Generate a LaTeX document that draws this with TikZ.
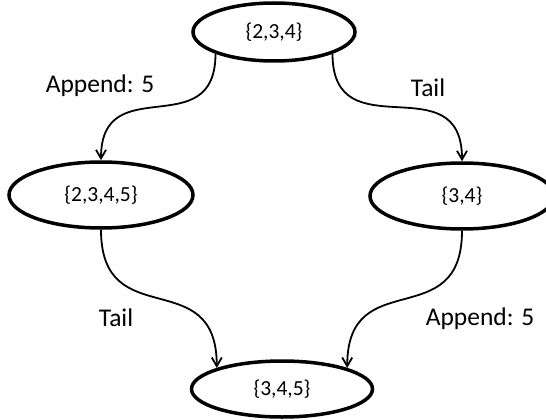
\documentclass[tikz,border=0pt]{standalone}
\usepackage{fontspec}
\setmainfont{Carlito}
\usetikzlibrary{shapes.geometric,arrows.meta}
\tikzset{
  setnode/.style={ellipse,draw,line width=3.5pt,inner sep=0pt,font=\fontsize{21.5}{25}\selectfont},
  flow/.style={line width=1.8pt,-{Straight Barb[angle=60:10pt,line width=1.8pt]},looseness=1.5},
  edgelabel/.style={font=\fontsize{25.5}{30}\selectfont}
}

\begin{document}
\begin{tikzpicture}[x=1pt,y=1pt]
  \useasboundingbox (0,0) rectangle (546,-420);
  \node[setnode,minimum width=162pt,minimum height=58pt] (start) at (274,-32) {\{2,3,4\}};
  \node[setnode,minimum width=184pt,minimum height=66pt] (appended) at (101,-195) {\{2,3,4,5\}};
  \node[setnode,minimum width=184pt,minimum height=66pt] (tailed) at (462,-196) {\{3,4\}};
  \node[setnode,minimum width=181pt,minimum height=56pt] (result) at (282,-389) {\{3,4,5\}};

  \draw[flow] (start.south west) to[out=-90,in=90] (appended.north);
  \draw[flow] (start.south east) to[out=-90,in=90] (tailed.north);
  \draw[flow] (appended.south) to[out=-90,in=90] (result.north west);
  \draw[flow] (tailed.south) to[out=-90,in=90] (result.north east);

  \node[edgelabel] (lblappendtop) at (100,-86) {Append: 5};
  \node[edgelabel] (lbltailtop) at (428,-88) {Tail};
  \node[edgelabel] (lbltailbottom) at (116,-318) {Tail};
  \node[edgelabel] (lblappendbottom) at (480,-319) {Append: 5};
\end{tikzpicture}
\end{document}
